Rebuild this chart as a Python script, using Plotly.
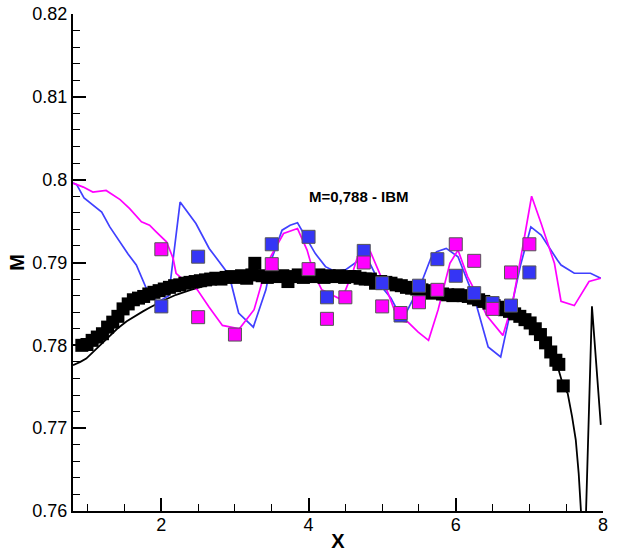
import plotly.graph_objects as go

# Black squares (reference data)
ref_x = [0.92, 0.99, 1.06, 1.13, 1.20, 1.27, 1.34, 1.41, 1.48, 1.55, 1.62, 1.69, 1.76, 1.83, 1.90,
         1.97, 2.04, 2.11, 2.18, 2.25, 2.32, 2.39, 2.46, 2.53, 2.60, 2.67, 2.74, 2.81, 2.88, 2.95,
         3.02, 3.09, 3.16, 3.23, 3.27, 3.37, 3.44, 3.51, 3.58, 3.65, 3.72, 3.79, 3.86, 3.93, 4.00,
         4.07, 4.14, 4.21, 4.28, 4.35, 4.42, 4.49, 4.56, 4.63, 4.70, 4.77, 4.84, 4.91, 4.98, 5.05,
         5.12, 5.19, 5.26, 5.33, 5.40, 5.47, 5.54, 5.61, 5.68, 5.75, 5.82, 5.89, 5.96, 6.03, 6.10,
         6.17, 6.24, 6.31, 6.38, 6.45, 6.52, 6.59, 6.66, 6.73, 6.80, 6.87, 6.94, 7.01, 7.08, 7.15,
         7.22, 7.29, 7.36, 7.40, 7.46]
ref_y = [0.7800, 0.7801, 0.7806, 0.7810, 0.7814, 0.7822, 0.7828, 0.7835, 0.7844, 0.7850, 0.7855, 0.7857, 0.7859, 0.7862, 0.7864,
         0.7866, 0.7868, 0.7870, 0.7872, 0.7873, 0.7875, 0.7876, 0.7877, 0.7878, 0.7879, 0.7880, 0.7881, 0.7880, 0.7882, 0.7883,
         0.7882, 0.7884, 0.7881, 0.7885, 0.7899, 0.7884, 0.7882, 0.7885, 0.7883, 0.7884, 0.7877, 0.7883, 0.7885, 0.7882, 0.7884,
         0.7883, 0.7885, 0.7882, 0.7884, 0.7883, 0.7884, 0.7882, 0.7883, 0.7883, 0.7881, 0.7880, 0.7880, 0.7875, 0.7877, 0.7876,
         0.7875, 0.7873, 0.7872, 0.7870, 0.7869, 0.7868, 0.7867, 0.7866, 0.7863, 0.7864, 0.7862, 0.7861, 0.7860, 0.7861, 0.7860,
         0.7859, 0.7857, 0.7855, 0.7853, 0.7851, 0.7848, 0.7846, 0.7843, 0.7841, 0.7838, 0.7835, 0.7831, 0.7827, 0.7820, 0.7813,
         0.7803, 0.7792, 0.7782, 0.7777, 0.7751]

# Black line
line_x = [0.80, 0.83, 0.90, 0.98, 1.05, 1.12, 1.20, 1.30, 1.40, 1.53, 1.65, 1.75, 1.85, 1.93, 2.05,
          2.20, 2.40, 2.60, 2.80, 3.00, 3.30, 3.60, 4.00, 4.40, 4.80, 5.20, 5.60, 6.00, 6.40, 6.80,
          7.00, 7.20, 7.35, 7.46, 7.52, 7.58, 7.63, 7.67, 7.70, 7.748, 7.77, 7.85, 7.97]
line_y = [0.7776, 0.7777, 0.7780, 0.7784, 0.7790, 0.7797, 0.7804, 0.7812, 0.7820, 0.7829, 0.7836, 0.7841, 0.7846, 0.7850, 0.7855,
          0.7861, 0.7867, 0.7872, 0.7875, 0.7877, 0.7879, 0.7880, 0.7881, 0.7881, 0.7879, 0.7874, 0.7867, 0.7859, 0.7850, 0.7837,
          0.7826, 0.7808, 0.7785, 0.7751, 0.7742, 0.7714, 0.7686, 0.7645, 0.7601, 0.7530, 0.7600, 0.7847, 0.7704]

# Blue line
blue_line_x = [0.80, 0.85, 0.95, 1.05, 1.19, 1.30, 1.43, 1.55, 1.66, 1.80, 1.95, 2.10, 2.255, 2.47, 2.65,
               2.83, 2.92, 3.05, 3.25, 3.42, 3.51, 3.64, 3.75, 3.85, 3.97, 4.09, 4.23, 4.36, 4.50, 4.66,
               4.81, 4.99, 5.12, 5.22, 5.33, 5.53, 5.66, 5.74, 5.87, 6.03, 6.26, 6.44, 6.61, 6.75, 6.88,
               7.02, 7.16, 7.38, 7.43, 7.61, 7.83, 7.97]
blue_line_y = [0.7996, 0.7994, 0.7978, 0.7971, 0.7961, 0.7943, 0.7925, 0.7910, 0.7897, 0.7868, 0.7852, 0.7860, 0.7973, 0.7947, 0.7917,
               0.7895, 0.7885, 0.7839, 0.7822, 0.7867, 0.7907, 0.7939, 0.7945, 0.7948, 0.7930, 0.7911, 0.7895, 0.7889, 0.7891, 0.7901,
               0.7903, 0.7871, 0.7857, 0.7840, 0.7840, 0.7875, 0.7905, 0.7913, 0.7917, 0.7907, 0.7855, 0.7798, 0.7786, 0.7843, 0.7897,
               0.7943, 0.7933, 0.7903, 0.7897, 0.7887, 0.7887, 0.7881]

# Magenta line
mag_line_x = [0.80, 0.94, 1.07, 1.25, 1.44, 1.57, 1.73, 1.84, 1.93, 2.07, 2.16, 2.20, 2.35, 2.49, 2.65,
              2.83, 3.06, 3.26, 3.37, 3.46, 3.66, 3.85, 3.98, 4.07, 4.18, 4.32, 4.45, 4.61, 4.68, 4.84,
              4.93, 5.08, 5.22, 5.35, 5.49, 5.63, 5.76, 5.92, 6.03, 6.16, 6.30, 6.42, 6.64, 6.77, 6.91,
              7.03, 7.16, 7.34, 7.43, 7.61, 7.81, 7.97]
mag_line_y = [0.7996, 0.7991, 0.7985, 0.7987, 0.7976, 0.7965, 0.7949, 0.7945, 0.7937, 0.7925, 0.7905, 0.7887, 0.7875, 0.7867, 0.7846,
              0.7824, 0.7820, 0.7843, 0.7877, 0.7903, 0.7935, 0.7941, 0.7915, 0.7887, 0.7867, 0.7861, 0.7855, 0.7891, 0.7911, 0.7913,
              0.7895, 0.7863, 0.7830, 0.7828, 0.7816, 0.7806, 0.7843, 0.7899, 0.7915, 0.7883, 0.7859, 0.7836, 0.7812, 0.7851, 0.7919,
              0.7980, 0.7947, 0.7899, 0.7853, 0.7848, 0.7877, 0.7881]

# Blue squares
blue_sq_x = [2.0, 2.5, 3.5, 4.0, 4.25, 4.75, 5.0, 5.25, 5.5, 5.75, 6.0, 6.25, 6.5, 6.75, 7.0]
blue_sq_y = [0.7847, 0.7907, 0.7922, 0.7931, 0.7858, 0.7914, 0.7875, 0.7836, 0.7872, 0.7904, 0.7884, 0.7863, 0.7851, 0.7848, 0.7888]

# Magenta squares
mag_sq_x = [2.0, 2.5, 3.0, 3.5, 4.0, 4.25, 4.5, 4.75, 5.0, 5.25, 5.5, 5.75, 6.0, 6.25, 6.5, 6.75, 7.0]
mag_sq_y = [0.7916, 0.7834, 0.7813, 0.7898, 0.7892, 0.7832, 0.7858, 0.7900, 0.7847, 0.7839, 0.7852, 0.7867, 0.7922, 0.7902, 0.7844, 0.7888, 0.7922]

title_text = "M=0,788 - IBM"

FONT = "Liberation Sans, Arial, sans-serif"
BLUE = "#3535f5"
MAG = "#ff00ff"

fig = go.Figure()
fig.add_trace(go.Scatter(x=line_x, y=line_y, mode="lines",
                         line=dict(color="black", width=1.8)))
fig.add_trace(go.Scatter(x=blue_line_x, y=blue_line_y, mode="lines",
                         line=dict(color="#4040ff", width=1.7)))
fig.add_trace(go.Scatter(x=mag_line_x, y=mag_line_y, mode="lines",
                         line=dict(color=MAG, width=1.7)))
fig.add_trace(go.Scatter(x=ref_x, y=ref_y, mode="markers",
                         marker=dict(symbol="square", size=13, color="black",
                                     line=dict(width=0))))
fig.add_trace(go.Scatter(x=blue_sq_x, y=blue_sq_y, mode="markers",
                         marker=dict(symbol="square", size=13, color=BLUE,
                                     line=dict(width=1, color="#555555"))))
fig.add_trace(go.Scatter(x=mag_sq_x, y=mag_sq_y, mode="markers",
                         marker=dict(symbol="square", size=13, color=MAG,
                                     line=dict(width=1, color="#555555"))))

fig.add_annotation(x=4.68, y=0.7980, xref="x", yref="y", text="<b>" + title_text + "</b>",
                   showarrow=False, font=dict(family=FONT, size=15, color="black"))

fig.update_layout(
    width=626, height=555,
    margin=dict(l=73, r=23, t=14, b=44),
    paper_bgcolor="white", plot_bgcolor="white",
    showlegend=False,
    font=dict(family=FONT, size=18, color="black"),
)
fig.update_xaxes(
    automargin=False,
    range=[0.8, 8.0], showgrid=False, zeroline=False,
    showline=True, linecolor="black", linewidth=2,
    ticks="inside", ticklen=13, tickwidth=2, tickcolor="black",
    tick0=0, dtick=2,
    minor=dict(ticks="inside", ticklen=7, tickwidth=1, tickcolor="black", dtick=0.5, tick0=0),
    title=dict(text="<b>X</b>", font=dict(size=20), standoff=0),
    tickfont=dict(size=18),
    ticklabelstandoff=-4,
)
fig.update_yaxes(
    automargin=False,
    range=[0.76, 0.82], showgrid=False, zeroline=False,
    showline=True, linecolor="black", linewidth=2,
    ticks="inside", ticklen=13, tickwidth=2, tickcolor="black",
    tick0=0.76, dtick=0.01,
    minor=dict(ticks="inside", ticklen=7, tickwidth=1, tickcolor="black", dtick=0.002, tick0=0.76),
    title=dict(text="<b>M</b>", font=dict(size=20), standoff=2),
    tickfont=dict(size=18),
    ticklabelstandoff=0,
)

# remove the default 8px page margin so the figure sits at the window origin
fig.write_html("out.html", config={"displayModeBar": False},
               post_script="document.body.style.margin='0px';")
